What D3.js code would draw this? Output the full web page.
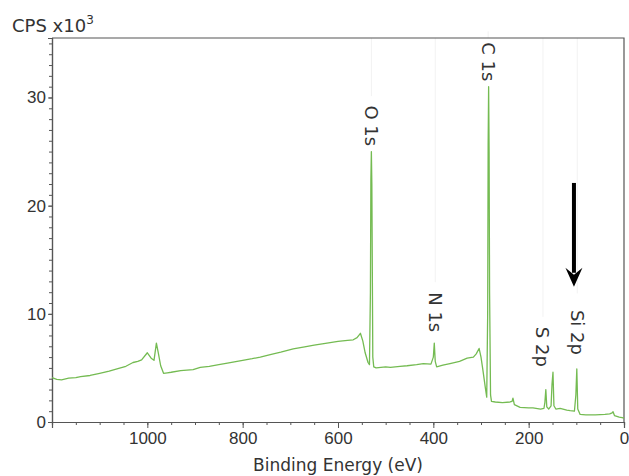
<!DOCTYPE html>
<html>
<head>
<meta charset="utf-8">
<script src="https://cdn.jsdelivr.net/npm/d3@7"></script>
<style>
  body { margin: 0; background: #fff; }
  svg { display: block; font-family: "DejaVu Sans", Verdana, sans-serif; }
</style>
</head>
<body>
<svg id="chart" width="629" height="476"></svg>
<script>
// survey spectrum, counts in thousands
const bindingEnergy = [1200, 1190, 1180, 1165, 1150, 1140, 1120, 1100, 1080, 1060, 1045, 1030, 1020, 1012,
  1000, 992, 986, 981, 977, 972, 966, 958, 950, 930, 904, 889, 870, 850, 832, 800, 780, 763, 740, 720,
  694, 670, 650, 623, 600, 580, 568, 560, 553, 548, 543, 537, 534, 532, 531, 530, 529, 527, 525, 520,
  500, 490, 470, 455, 435, 421, 405, 400, 398, 396, 393, 380, 365, 345, 329, 316, 310, 304, 300, 296,
  291, 288, 286, 285, 284, 283, 282, 280, 278, 270, 255, 239, 235, 233, 230, 218, 200, 191, 175, 168,
  166, 164, 162, 158, 153, 151, 149, 147, 143, 134, 120, 113, 104, 101, 99, 97, 92, 80, 60, 40, 30, 25,
  23, 20, 10, 4, 0];
const cps = [4.1, 3.95, 3.9, 4.05, 4.1, 4.2, 4.3, 4.5, 4.7, 4.95, 5.15, 5.5, 5.6, 5.75,
  6.4, 5.9, 5.7, 7.3, 6.4, 5.2, 4.5, 4.55, 4.6, 4.75, 4.85, 5.05, 5.15, 5.3, 5.45, 5.7, 5.85, 6.0, 6.25, 6.45,
  6.75, 6.95, 7.1, 7.3, 7.45, 7.55, 7.6, 7.8, 8.2, 7.5, 6.4, 5.5, 5.3, 12, 22.4, 25, 22, 6, 5.1, 5.0,
  5.1, 5.05, 5.15, 5.2, 5.3, 5.4, 5.35, 6.0, 7.3, 5.6, 5.1, 5.25, 5.4, 5.6, 5.9, 6.0, 6.3, 6.8, 6.0, 4.8,
  3.2, 2.3, 10, 25.6, 31, 25, 12, 2.5, 1.9, 1.85, 1.8, 1.85, 1.9, 2.2, 1.6, 1.35, 1.3, 1.3, 1.2, 1.25,
  1.8, 3.0, 1.4, 1.2, 1.5, 3.5, 4.6, 1.5, 1.2, 1.25, 1.1, 1.05, 1.0, 2.5, 4.9, 1.2, 0.7, 0.65, 0.65, 0.7, 0.75, 0.85,
  0.95, 0.6, 0.45, 0.4, 0.35];

const peakNames = ["C 1s", "O 1s", "N 1s", "S 2p", "Si 2p"];
const peakEnergy = [285, 530, 396, 170, 98];
const peakLabelEnd = [31.5, 25.5, 8.3, 5.1, 6.2];

const xTickValues = [1000, 800, 600, 400, 200, 0];
const yTickValues = [0, 10, 20, 30];

const arrowEnergy = 105;
const arrowFrom = 22.1;
const arrowTo = 12.5;

const width = 629, height = 476;
const margin = { top: 38, right: 5, bottom: 54, left: 52 };
const svg = d3.select('#chart');

const x = d3.scaleLinear().domain([1200, 0]).range([margin.left, width - margin.right]);
const y = d3.scaleLinear().domain([0, 35.5]).range([height - margin.bottom, margin.top]);

const axisColor = '#555';
const textColor = '#333';

// faint peak marker lines
svg.append('g')
  .selectAll('line')
  .data(peakNames)
  .join('line')
  .attr('x1', (d, i) => x(peakEnergy[i]))
  .attr('x2', (d, i) => x(peakEnergy[i]))
  .attr('y1', margin.top)
  .attr('y2', (d, i) => y(peakLabelEnd[i]) - d.length * 11.5 - 4)
  .attr('stroke', '#f2f2f2')
  .attr('stroke-width', 1);

// frame (top + right)
svg.append('path')
  .attr('d', `M${margin.left},${margin.top}H${width - margin.right}V${height - margin.bottom}`)
  .attr('fill', 'none')
  .attr('stroke', axisColor)
  .attr('stroke-width', 1.2);

// x axis, minor + major ticks
const xAxisG = svg.append('g').attr('transform', `translate(0,${height - margin.bottom})`);
xAxisG.call(d3.axisBottom(x).tickValues(d3.range(1150, -1, -50)).tickSize(3).tickFormat(''));
xAxisG.append('g')
  .call(d3.axisBottom(x).tickValues(xTickValues).tickSize(6).tickPadding(4).tickFormat(d3.format('d')));
xAxisG.selectAll('.domain').attr('stroke', axisColor).attr('stroke-width', 1.2);
xAxisG.selectAll('.tick line').attr('stroke', axisColor);
xAxisG.selectAll('text').attr('fill', textColor).style('font-size', '17px');

// y axis
const yAxisG = svg.append('g').attr('transform', `translate(${margin.left},0)`);
yAxisG.call(d3.axisLeft(y).tickValues(d3.range(0, 36, 1)).tickSize(3).tickFormat(''));
yAxisG.append('g')
  .call(d3.axisLeft(y).tickValues(yTickValues).tickSize(4).tickPadding(2).tickFormat(d3.format('d')));
yAxisG.selectAll('.domain').attr('stroke', axisColor).attr('stroke-width', 1.2);
yAxisG.selectAll('.tick line').attr('stroke', axisColor);
yAxisG.selectAll('text').attr('fill', textColor).style('font-size', '17px');

// spectrum
const line = d3.line()
  .x((d, i) => x(bindingEnergy[i]))
  .y(d => y(d));

svg.append('path')
  .datum(cps)
  .attr('d', line)
  .attr('fill', 'none')
  .attr('stroke', '#74bb52')
  .attr('stroke-width', 1.3)
  .attr('stroke-linejoin', 'round');

// peak labels, rotated
svg.append('g')
  .selectAll('text')
  .data(peakNames)
  .join('text')
  .attr('transform', (d, i) => `translate(${x(peakEnergy[i])},${y(peakLabelEnd[i])}) rotate(90)`)
  .attr('text-anchor', 'end')
  .attr('dominant-baseline', 'central')
  .attr('fill', textColor)
  .style('font-size', '18px')
  .text(d => d);

// arrow
const ax = x(arrowEnergy);
svg.append('line')
  .attr('x1', ax).attr('x2', ax)
  .attr('y1', y(arrowFrom)).attr('y2', y(arrowTo) - 14)
  .attr('stroke', '#000')
  .attr('stroke-width', 4);
svg.append('path')
  .attr('d', `M${ax - 8.5},${y(arrowTo) - 19}L${ax},${y(arrowTo) - 12}L${ax + 8.5},${y(arrowTo) - 19}L${ax},${y(arrowTo)}Z`)
  .attr('fill', '#000');

// y title
const yTitle = svg.append('text')
  .attr('x', 12)
  .attr('y', 32)
  .attr('fill', textColor)
  .style('font-size', '18px')
  .text('CPS x10');
yTitle.append('tspan')
  .attr('dy', -8)
  .style('font-size', '12px')
  .text('3');

// x title
svg.append('text')
  .attr('x', (margin.left + width - margin.right) / 2)
  .attr('y', 471)
  .attr('text-anchor', 'middle')
  .attr('fill', textColor)
  .style('font-size', '17px')
  .text('Binding Energy (eV)');
</script>
</body>
</html>
